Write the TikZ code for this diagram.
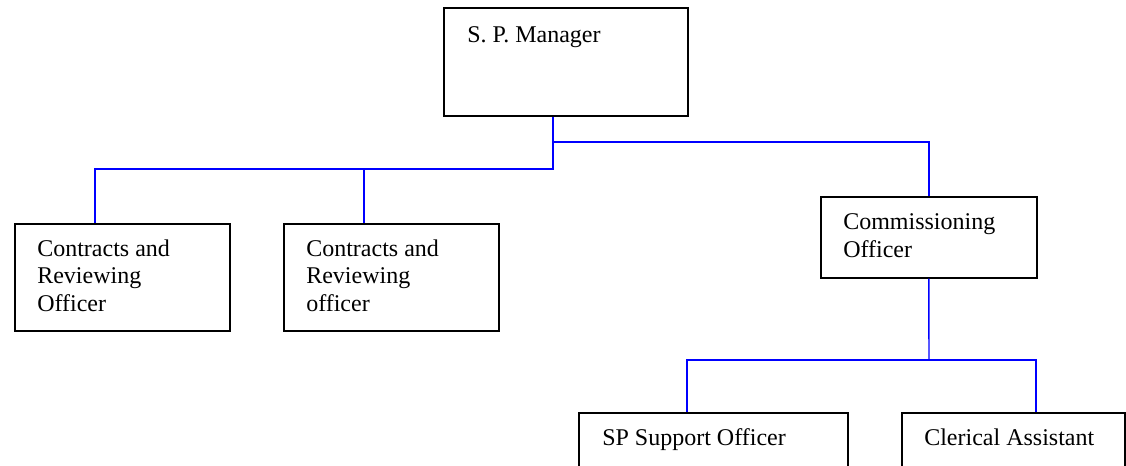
\documentclass[tikz,border=0pt]{standalone}
\usepackage{fontspec}
\setmainfont{Liberation Serif}
\begin{document}
\begin{tikzpicture}[x=0.75pt,y=-0.75pt,
  orgbox/.style={draw=black, line width=1.3pt, fill=white, inner sep=0pt, anchor=north west},
  orgtext/.style={anchor=base west, inner sep=0pt, align=left,
    font=\fontsize{18}{20.5}\selectfont},
  link/.style={draw={rgb,255:red,0;green,0;blue,255}, line width=1.1pt}]
\useasboundingbox (0,0) rectangle (1126,465);
\clip (0,0) rectangle (1126,465);
\fill[white] (0,0) rectangle (1126,465);

% boxes (sizes in pt, positions in px)
\node[orgbox, minimum width=183pt, minimum height=81pt] (mgr) at (443,7) {};
\node[orgbox, minimum width=161.25pt, minimum height=80.25pt] (cro1) at (14,223) {};
\node[orgbox, minimum width=161.25pt, minimum height=80.25pt] (cro2) at (283,223) {};
\node[orgbox, minimum width=162pt, minimum height=60.75pt] (com) at (820,196) {};
\node[orgbox, minimum width=201.75pt, minimum height=60pt] (spo) at (578,412) {};
\node[orgbox, minimum width=167.25pt, minimum height=60pt] (cla) at (901,412) {};

% labels (anchored at the baseline of their last line)
\node[orgtext] (tmgr) at (467,42) {S. P. Manager};
\node[orgtext] (tcro1) at (37,311) {Contracts and\\Reviewing\\Officer};
\node[orgtext] (tcro2) at (306,311) {Contracts and\\Reviewing\\officer};
\node[orgtext] (tcom) at (843,257) {Commissioning\\Officer};
\node[orgtext] (tspo) at (602,445) {SP Support Officer};
\node[orgtext] (tcla) at (924,445) {Clerical Assistant};

% branch points
\coordinate (j1) at (553,142);
\coordinate (j2) at (553,169);
\coordinate (j3) at (929,360);

% connectors
\draw[link] (mgr.south -| j1) -- (j2) -- (j2 -| 95,0) -- (cro1.north -| 95,0);
\draw[link] (j2 -| 364,0) -- (cro2.north -| 364,0);
\draw[link] (j1) -- (j1 -| com.north) -- (com.north);
\draw[link] (com.south) -- (j3);
\draw[link] (j3) -- (j3 -| 687,0) -- (spo.north -| 687,0);
\draw[link] (j3) -- (j3 -| 1036,0) -- (cla.north -| 1036,0);
\end{tikzpicture}
\end{document}
